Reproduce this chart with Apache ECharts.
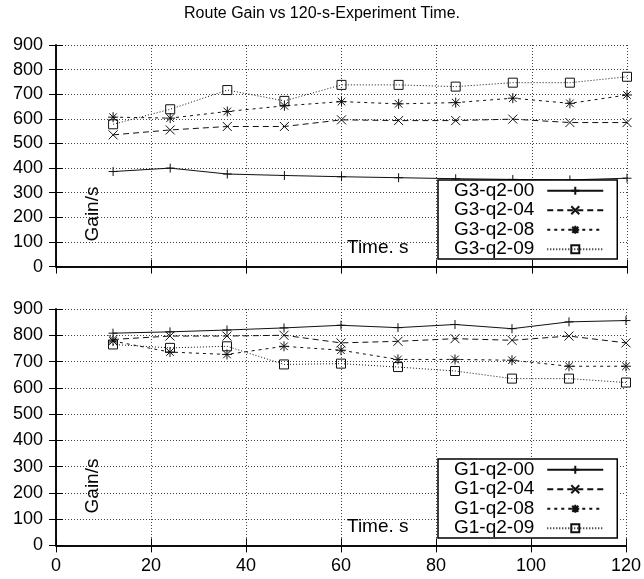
<!DOCTYPE html>
<html>
<head>
<meta charset="utf-8">
<script src="https://cdn.jsdelivr.net/npm/echarts@6/dist/echarts.min.js"></script>
<style>
html,body{margin:0;padding:0;background:#fff;}
#c{width:644px;height:579px;}
</style>
</head>
<body>
<div id="c"></div>
<script>
// ---- data ----
const times = [12, 24, 36, 48, 60, 72, 84, 96, 108, 120];
const xTicks = [0, 20, 40, 60, 80, 100, 120];
const yTicks = [0, 100, 200, 300, 400, 500, 600, 700, 800, 900];

const topNames = ['G3-q2-00', 'G3-q2-04', 'G3-q2-08', 'G3-q2-09'];
const g3_00 = [386, 400, 376, 370, 365, 361, 357, 354, 352, 359];
const g3_04 = [535, 555, 569, 569, 596, 593, 593, 599, 585, 585];
const g3_08 = [607, 603, 630, 653, 670, 661, 666, 684, 663, 697];
const g3_09 = [578, 639, 717, 673, 738, 738, 731, 747, 747, 771];

const botNames = ['G1-q2-00', 'G1-q2-04', 'G1-q2-08', 'G1-q2-09'];
const g1_00 = [808, 813, 820, 828, 838, 829, 841, 825, 851, 856];
const g1_04 = [784, 797, 797, 800, 771, 777, 787, 781, 797, 771];
const g1_08 = [778, 736, 727, 758, 743, 708, 708, 705, 682, 682];
const g1_09 = [765, 752, 758, 689, 692, 679, 664, 635, 635, 620];

const titleText = 'Route Gain vs 120-s-Experiment Time.';
const yLabel = 'Gain/s';
const xLabel = 'Time. s';

// ---- styles ----
const FONT = '"Liberation Sans", Arial, Helvetica, sans-serif';
const symbols = [
  'path://M5,0L5,10M0,5L10,5',
  'path://M0,0L10,10M10,0L0,10',
  'path://M5,0L5,10M0,5L10,5M1.2,1.2L8.8,8.8M8.8,1.2L1.2,8.8',
  'path://M0,0L10,0L10,10L0,10Z'
];
const symSizes = [9, 9, 10, 9];
const dashes = ['solid', [6, 4], [3, 4], [1, 2]];

function pairs(vals) { return times.map((t, i) => [t, vals[i]]); }

function mkSeries(name, vals, k, gi) {
  return {
    type: 'line', name: name, data: pairs(vals),
    xAxisIndex: gi * 2, yAxisIndex: gi * 2,
    symbol: symbols[k], symbolSize: symSizes[k], symbolKeepAspect: true,
    lineStyle: { color: '#111', width: 1, type: dashes[k] },
    itemStyle: { color: 'rgba(0,0,0,0)', borderColor: '#111', borderWidth: 1 },
    emphasis: { disabled: true }, silent: true, z: 3
  };
}

const grids = [
  { left: 56, top: 45, width: 571, height: 221.6 },
  { left: 56, top: 309, width: 571, height: 236.4 }
];

const xAxes = [], yAxes = [];
grids.forEach((g, gi) => {
  xAxes.push({
    type: 'value', gridIndex: gi, min: 0, max: 120, interval: 20, position: 'bottom',
    axisLine: { show: true, lineStyle: { color: '#000', width: 1.5 } },
    axisTick: { show: true, inside: true, length: 7, lineStyle: { color: '#000', width: 1 } },
    axisLabel: { show: gi === 1, color: '#000', fontSize: 18, fontFamily: FONT, margin: 12 },
    splitLine: { show: true, lineStyle: { color: '#444', width: 1, type: [1, 2] } }
  });
  xAxes.push({
    type: 'value', gridIndex: gi, min: 0, max: 120, interval: 20, position: 'top',
    axisLine: { show: true, lineStyle: { color: '#000', width: 1.5 } },
    axisTick: { show: true, inside: true, length: 7, lineStyle: { color: '#000', width: 1 } },
    axisLabel: { show: false }, splitLine: { show: false }
  });
  yAxes.push({
    type: 'value', gridIndex: gi, min: 0, max: 900, interval: 100, position: 'left',
    axisLine: { show: true, lineStyle: { color: '#000', width: 1.5 } },
    axisTick: { show: true, inside: true, length: 7, lineStyle: { color: '#000', width: 1 } },
    axisLabel: { show: true, color: '#000', fontSize: 18, fontFamily: FONT, margin: 13 },
    splitLine: { show: true, lineStyle: { color: '#444', width: 1, type: [1, 2] } }
  });
  yAxes.push({
    type: 'value', gridIndex: gi, min: 0, max: 900, interval: 100, position: 'right',
    axisLine: { show: true, lineStyle: { color: '#000', width: 1.5 } },
    axisTick: { show: true, inside: true, length: 7, lineStyle: { color: '#000', width: 1 } },
    axisLabel: { show: false }, splitLine: { show: false }
  });
});

const series = [];
[g3_00, g3_04, g3_08, g3_09].forEach((v, k) => series.push(mkSeries(topNames[k], v, k, 0)));
[g1_00, g1_04, g1_08, g1_09].forEach((v, k) => series.push(mkSeries(botNames[k], v, k, 1)));

function mkLegend(names, top) {
  return {
    data: names, orient: 'vertical', left: 438, top: top, align: 'right',
    selectedMode: false, backgroundColor: '#fff', borderColor: '#000', borderWidth: 1.5,
    padding: [1, 13, 0, 16], itemGap: 0, itemWidth: 56, itemHeight: 10,
    textStyle: { color: '#000', fontSize: 19, fontFamily: FONT, lineHeight: 19.5, padding: [0, 8, 0, 0] },
    z: 10
  };
}

const chart = echarts.init(document.getElementById('c'), null, { renderer: 'canvas' });
chart.setOption({
  animation: false,
  backgroundColor: '#fff',
  title: { text: titleText, left: 'center', top: 1,
    textStyle: { color: '#000', fontSize: 16, fontWeight: 'normal', fontFamily: FONT } },
  grid: grids,
  xAxis: xAxes,
  yAxis: yAxes,
  legend: [mkLegend(topNames, 180), mkLegend(botNames, 459)],
  series: series,
  graphic: [
    { type: 'text', x: 93, y: 214, rotation: Math.PI / 2, z: 5,
      style: { text: yLabel, font: '19px ' + FONT, fill: '#000', textAlign: 'center', textVerticalAlign: 'middle' } },
    { type: 'text', x: 93, y: 486, rotation: Math.PI / 2, z: 5,
      style: { text: yLabel, font: '19px ' + FONT, fill: '#000', textAlign: 'center', textVerticalAlign: 'middle' } },
    { type: 'text', x: 347, y: 247.5, z: 5,
      style: { text: xLabel, font: '19px ' + FONT, fill: '#000', textAlign: 'left', textVerticalAlign: 'middle' } },
    { type: 'text', x: 347, y: 527, z: 5,
      style: { text: xLabel, font: '19px ' + FONT, fill: '#000', textAlign: 'left', textVerticalAlign: 'middle' } }
  ]
});
</script>
</body>
</html>
